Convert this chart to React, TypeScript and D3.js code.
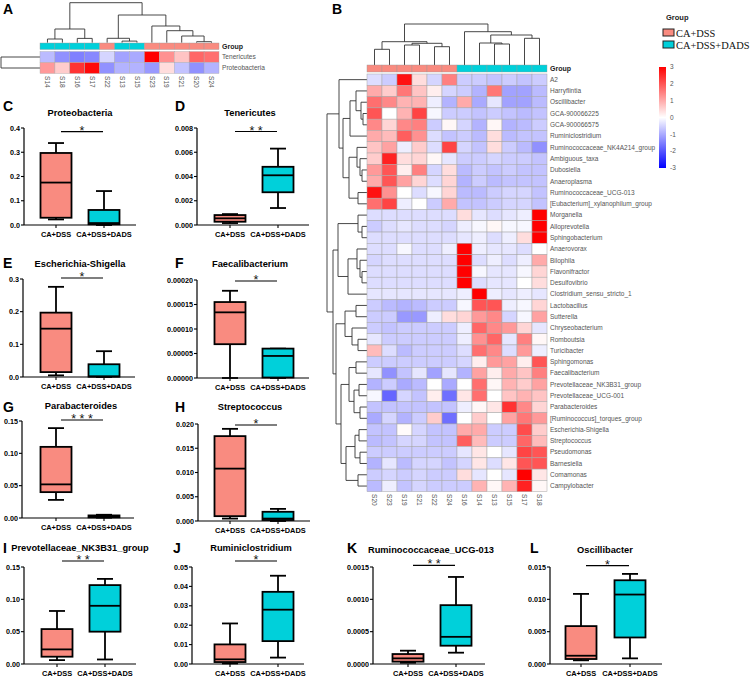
import React from "react";
import * as d3 from "d3";

// ---------- shared ----------
const groups = ["CA+DSS", "CA+DSS+DADS"];
const groupColors = ["#F98B80", "#00D0DA"];

// ---------- panel A ----------
const aSamples = ["S14", "S18", "S16", "S17", "S22", "S13", "S15", "S23", "S19", "S21", "S20", "S24"];
const aGroup = [1, 1, 1, 1, 0, 1, 1, 0, 0, 0, 0, 0];
const aTaxa = ["Tenericutes", "Proteobacteria"];
const aValues = [
  [-0.8, -1.3, -1.5, -1.4, -0.5, -1.1, -1.0, 3.0, 1.3, 0.7, 1.8, 1.7],
  [1.2, 0.6, 2.4, 2.9, -1.3, -0.9, -0.9, -1.2, 0.4, -0.7, -1.3, -0.9],
];
type Tree = number | [number, Tree, Tree];
const aColTree: Tree = [40, [13.7, [3.7, 0, 1], [4.3, 2, 3]], [27.7, [4.4, 4, [1.6, 5, 6]], [16.7, 7, [12, 8, [6.7, 9, [1, 10, 11]]]]]];
const aRowTree: Tree = [38, 0, 1];

// ---------- panel B ----------
const bSamples = ["S20", "S23", "S19", "S21", "S22", "S24", "S16", "S14", "S13", "S15", "S17", "S18"];
const bGroup = [0, 0, 0, 0, 0, 0, 1, 1, 1, 1, 1, 1];
const bTaxa = [
  "A2", "Harryflintia", "Oscillibacter", "GCA-900066225", "GCA-900066575", "Ruminiclostridium",
  "Ruminococcaceae_NK4A214_group", "Ambiguous_taxa", "Dubosiella", "Anaeroplasma", "Ruminococcaceae_UCG-013",
  "[Eubacterium]_xylanophilum_group", "Morganella", "Alloprevotella", "Sphingobacterium", "Anaerovorax",
  "Bilophila", "Flavonifractor", "Desulfovibrio", "Clostridium_sensu_stricto_1", "Lactobacillus", "Sutterella",
  "Chryseobacterium", "Romboutsia", "Turicibacter", "Sphingomonas", "Faecalibacterium",
  "Prevotellaceae_NK3B31_group", "Prevotellaceae_UCG-001", "Parabacteroides", "[Ruminococcus]_torques_group",
  "Escherichia-Shigella", "Streptococcus", "Pseudomonas", "Barnesiella", "Comamonas", "Campylobacter",
];
const bValues = [
  [-0.4, -0.6, 2.8, 0.4, -0.5, 1.5, -0.6, -0.6, -0.7, -0.6, -0.7, -0.6],
  [1.0, 0.6, 1.6, 0.7, 0.2, -0.5, -0.6, -0.9, 1.6, -1.1, -1.1, -0.8],
  [1.7, 1.4, 0.9, 0.9, -0.2, -0.9, 1.0, -1.0, -0.3, -1.1, -1.1, -0.8],
  [2.0, 0.0, 0.9, 2.2, -0.1, -0.6, -0.6, -0.7, -0.6, -0.7, -0.8, -0.7],
  [1.4, 0.5, 1.4, 1.5, -0.6, 0.1, -0.5, -0.9, 0.1, -0.9, -0.8, -0.6],
  [1.0, 0.8, 1.9, 1.3, -0.4, -0.7, -0.6, -0.8, 0.4, -0.8, -0.7, -0.7],
  [0.7, 1.1, -0.2, 0.6, -0.4, 2.2, -0.5, -0.7, 0.4, -0.6, -0.8, -1.3],
  [0.6, 2.6, 0.4, 0.5, 0.1, -0.3, -0.6, -0.6, -0.5, -0.6, -0.6, -0.7],
  [1.2, 2.0, 0.2, 1.5, -0.5, 0.4, -0.8, -0.6, -0.7, -0.6, -0.7, -0.7],
  [1.0, 2.0, 1.1, 0.5, -0.4, 0.5, -0.9, -0.6, -0.8, -0.7, -0.7, -0.7],
  [2.8, 1.3, 0.0, -0.4, -0.1, 0.5, -0.8, -0.8, -0.6, -0.5, -0.5, -0.7],
  [1.7, 2.2, -0.2, 0.0, -0.6, 1.0, -0.7, -0.7, -0.6, -0.5, -0.5, -0.7],
  [-0.4, -0.4, -0.4, -0.4, -0.4, -0.4, 0.4, -0.3, -0.4, -0.3, -0.2, 3.0],
  [-0.6, -0.4, -0.3, -0.4, -0.4, -0.5, -0.2, -0.1, 0.1, -0.1, -0.1, 3.0],
  [-0.4, -0.4, -0.4, -0.4, -0.4, -0.4, -0.3, -0.2, -0.4, -0.2, 0.4, 3.0],
  [-0.4, -0.4, -0.1, -0.4, -0.4, -0.2, 3.0, -0.2, -0.3, -0.3, -0.4, 0.0],
  [-0.5, -0.4, -0.4, -0.4, -0.4, -0.4, 3.0, -0.4, -0.2, -0.4, -0.2, 1.0],
  [-0.4, -0.4, -0.4, -0.4, -0.4, -0.4, 3.0, -0.1, -0.3, -0.3, -0.1, 0.5],
  [-0.4, -0.4, -0.4, -0.4, -0.4, -0.4, 3.0, -0.4, -0.3, -0.3, 0.0, 0.4],
  [-0.3, -0.3, -0.3, -0.3, -0.3, -0.3, -0.2, 3.0, -0.2, -0.3, -0.2, -0.3],
  [-0.6, -0.8, -0.9, -0.8, -0.6, -0.6, -0.1, 2.0, 2.0, -0.2, -0.1, 0.5],
  [-0.6, -0.6, -1.2, -1.2, -0.2, 0.4, 0.5, 1.2, 1.4, -0.5, -0.1, 1.1],
  [-0.6, -0.7, -0.6, -0.6, -0.6, -0.6, -0.2, 1.8, 1.4, 1.2, 0.5, -0.3],
  [-0.3, -0.6, -0.6, -0.6, -0.6, -0.6, -0.2, 1.3, 1.8, -0.3, 1.5, 0.1],
  [0.8, -0.4, -0.8, -0.6, -0.6, -0.6, -0.4, 1.7, 1.4, -0.4, 1.2, -0.2],
  [-0.6, -0.6, -0.6, -0.6, -0.6, -0.6, -0.5, 0.2, 1.2, 1.1, 0.2, 2.0],
  [-0.3, -1.3, -0.7, -0.3, -1.1, -0.3, -0.9, 1.1, 0.2, 1.0, 0.7, 1.5],
  [-0.9, -0.6, -1.0, -0.8, 0.0, -1.0, 0.0, 1.7, 0.1, 0.9, 0.6, 1.1],
  [-0.1, -1.8, -0.5, -0.7, 0.2, -1.7, 0.3, 1.7, 0.0, 0.7, 0.9, 0.7],
  [-0.7, -0.7, -0.7, -0.7, -0.7, -0.7, -0.2, 0.1, 0.3, 2.4, 1.4, 0.5],
  [-1.0, -0.5, -0.9, -0.6, 0.6, -1.7, 0.0, 0.6, 0.0, 1.1, 1.6, 1.2],
  [-0.7, -0.7, 0.05, -0.5, -0.7, -0.7, 1.0, 1.0, -0.6, -0.6, 2.1, 0.6],
  [-0.8, -0.7, -0.5, -0.5, -0.7, -0.7, 1.9, 0.8, -0.6, -0.6, 1.8, 0.8],
  [-0.6, -0.6, -0.6, -0.6, -0.6, -0.6, -0.3, 0.3, 0.0, -0.3, 2.2, 2.0],
  [-0.9, -0.3, -0.8, -0.5, -0.5, -0.7, -0.5, 0.3, -0.4, 0.3, 2.0, 2.0],
  [-0.6, -0.5, -0.6, -0.5, -0.6, -0.6, 0.4, -0.3, 0.0, -0.3, 3.0, 0.3],
  [-0.8, -0.2, -0.7, -0.5, -0.6, -0.6, -0.6, 0.9, 0.1, 0.9, 2.6, 0.1],
];
const bColTree: Tree = [41, [23.3, [15.7, 0, 1], [21.7, [20, 2, 3], [18.3, 4, 5]]], [33.3, 6, [30, [22, 7, [21, 8, 9]], [26.7, 10, 11]]]];
const bRowTree: Tree = [40,
  [28, 0, [24, [17, [11, 1, [6, 2, [4, 3, 4]]], 5], [18, [10, 6, [7, 7, [5, 8, 9]]], [9, 10, 11]]]],
  [34,
    [29, [9, 12, [5, 13, 14]], [19, [10, 15, [7, 16, [5, 17, 18]]], 19]],
    [31, [22, [11, 20, 21], [15, 22, [9, 23, 24]]],
      [26, [18, [11, 25, 26], [13, [8, 27, 28], [7, 29, 30]]], [21, [12, [8, 31, 32], [7, 33, 34]], [9, 35, 36]]]]]];
const colorTicks = ["3", "2", "1", "0", "-1", "-2", "-3"];

// ---------- box plot panels: [min, q1, median, q3, max] ----------
const proteobacteria = [[0.023, 0.03, 0.175, 0.297, 0.338], [0.0, 0.003, 0.008, 0.062, 0.14]];
const tenericutes = [[0.00016, 0.00027, 0.00055, 0.00082, 0.0009], [0.0014, 0.0027, 0.0041, 0.0048, 0.0063]];
const escherichia = [[0.005, 0.015, 0.148, 0.197, 0.276], [0.0, 0.001, 0.002, 0.039, 0.079]];
const faecalibacterium = [[0.0, 0.000069, 0.000134, 0.000155, 0.000178], [0.0, 0.000001, 0.000045, 0.00006, 0.00006]];
const parabacteroides = [[0.028, 0.04, 0.052, 0.11, 0.139], [0.0005, 0.001, 0.002, 0.004, 0.005]];
const streptococcus = [[0.0005, 0.001, 0.0108, 0.0175, 0.019], [0.0, 0.0002, 0.0005, 0.0019, 0.0025]];
const prevotellaceae = [[0.006, 0.0113, 0.0226, 0.054, 0.082], [0.007, 0.05, 0.09, 0.122, 0.1316]];
const ruminiclostridium = [[0.0003, 0.001, 0.0024, 0.0101, 0.0209], [0.0033, 0.0118, 0.028, 0.0372, 0.0455]];
const ruminococcaceae = [[0.00002, 0.000036, 0.000087, 0.000154, 0.000206], [0.000175, 0.000283, 0.00042, 0.00091, 0.001346]];
const oscillibacter = [[0.00057, 0.00077, 0.00128, 0.00586, 0.01084], [0.00087, 0.0041, 0.01074, 0.01295, 0.01393]];

const ticksC = ["0.0", "0.1", "0.2", "0.3", "0.4"];
const ticksD = ["0.000", "0.002", "0.004", "0.006", "0.008"];
const ticksE = ["0.0", "0.1", "0.2", "0.3"];
const ticksF = ["0.00000", "0.00005", "0.00010", "0.00015", "0.00020"];
const ticksG = ["0.00", "0.05", "0.10", "0.15"];
const ticksH = ["0.000", "0.005", "0.010", "0.015", "0.020"];
const ticksI = ["0.00", "0.05", "0.10", "0.15"];
const ticksJ = ["0.00", "0.01", "0.02", "0.03", "0.04", "0.05"];
const ticksK = ["0.0000", "0.0005", "0.0010", "0.0015"];
const ticksL = ["0.000", "0.005", "0.010", "0.015"];

const panels = [
  { id: "C", title: "Proteobacteria", stats: proteobacteria, ticks: ticksC, sig: "*", ax: 24, top: 128, bot: 225, c1: 56, c2: 104, tx: 80, ty: 116, sy: 131.7, lx: 3, ly: 111 },
  { id: "D", title: "Tenericutes", stats: tenericutes, ticks: ticksD, sig: "* *", ax: 197, top: 128, bot: 225, c1: 230, c2: 278, tx: 250, ty: 116, sy: 131.5, lx: 175, ly: 111 },
  { id: "E", title: "Escherichia-Shigella", stats: escherichia, ticks: ticksE, sig: "*", ax: 23, top: 279, bot: 377, c1: 56, c2: 104, tx: 80, ty: 267, sy: 278, lx: 3, ly: 268 },
  { id: "F", title: "Faecalibacterium", stats: faecalibacterium, ticks: ticksF, sig: "*", ax: 197, top: 280, bot: 378, c1: 230, c2: 278, tx: 250, ty: 267, sy: 281, lx: 175, ly: 268 },
  { id: "G", title: "Parabacteroides", stats: parabacteroides, ticks: ticksG, sig: "* * *", ax: 22, top: 421, bot: 518, c1: 56, c2: 104, tx: 81, ty: 409, sy: 420, lx: 3, ly: 412 },
  { id: "H", title: "Streptococcus", stats: streptococcus, ticks: ticksH, sig: "*", ax: 198, top: 424, bot: 521, c1: 230, c2: 278, tx: 250, ty: 410, sy: 425, lx: 175, ly: 412 },
  { id: "I", title: "Prevotellaceae_NK3B31_group", stats: prevotellaceae, ticks: ticksI, sig: "* *", ax: 24, top: 567, bot: 664, c1: 57, c2: 105, tx: 80, ty: 550.5, sy: 561, lx: 3, ly: 553 },
  { id: "J", title: "Ruminiclostridium", stats: ruminiclostridium, ticks: ticksJ, sig: "*", ax: 192, top: 567, bot: 664, c1: 230, c2: 278, tx: 251, ty: 550.5, sy: 561, lx: 173, ly: 553 },
  { id: "K", title: "Ruminococcaceae_UCG-013", stats: ruminococcaceae, ticks: ticksK, sig: "* *", ax: 373, top: 567, bot: 664, c1: 408, c2: 456, tx: 431, ty: 553, sy: 565.3, lx: 347, ly: 553 },
  { id: "L", title: "Oscillibacter", stats: oscillibacter, ticks: ticksL, sig: "*", ax: 550, top: 567, bot: 664, c1: 581, c2: 630, tx: 605, ty: 553, sy: 565.7, lx: 530, ly: 553 },
];

const SANS = "'Liberation Sans', Arial, Helvetica, sans-serif";
const SERIF = "'Liberation Serif', 'Times New Roman', serif";

const heatColor = d3.scaleLinear<string>().domain([-3, 0, 3]).range(["#0000FF", "#FFFFFF", "#FF0000"]).clamp(true);

function dendroPath(t: Tree, pos: (i: number) => number, hs: d3.ScaleLinear<number, number>, orient: "col" | "row"): string {
  const p = d3.path();
  const rec = (n: Tree): { p: number; h: number } => {
    if (typeof n === "number") return { p: pos(n), h: 0 };
    const [h, a, b] = n;
    const A = rec(a);
    const B = rec(b);
    const s = hs(h);
    if (orient === "col") {
      p.moveTo(A.p, hs(A.h)); p.lineTo(A.p, s); p.lineTo(B.p, s); p.lineTo(B.p, hs(B.h));
    } else {
      p.moveTo(hs(A.h), A.p); p.lineTo(s, A.p); p.lineTo(s, B.p); p.lineTo(hs(B.h), B.p);
    }
    return { p: (A.p + B.p) / 2, h };
  };
  rec(t);
  return p.toString();
}

function PanelA() {
  const x = d3.scaleBand().domain(aSamples).range([40, 219]);
  const y = d3.scaleBand().domain(aTaxa).range([51.5, 73.5]);
  const colH = d3.scaleLinear().domain([0, 40]).range([42.7, 2.7]);
  const rowH = d3.scaleLinear().domain([0, 38]).range([40, 1]);
  const colD = dendroPath(aColTree, (i) => x(aSamples[i])! + x.bandwidth() / 2, colH, "col");
  const rowD = dendroPath(aRowTree, (i) => y(aTaxa[i])! + y.bandwidth() / 2, rowH, "row");
  return (
    <g>
      <path d={colD} fill="none" stroke="#333" strokeWidth={0.9} />
      <path d={rowD} fill="none" stroke="#333" strokeWidth={0.9} />
      {aSamples.map((s, i) => (
        <rect key={s} x={x(s)} y={43} width={x.bandwidth()} height={6.5} fill={groupColors[aGroup[i]]} stroke="#999" strokeWidth={0.4} />
      ))}
      {aTaxa.map((t, r) =>
        aSamples.map((s, c) => (
          <rect key={t + s} x={x(s)} y={y(t)} width={x.bandwidth()} height={y.bandwidth()} fill={heatColor(aValues[r][c])} stroke="#aaa" strokeWidth={0.4} />
        ))
      )}
      <text x={222} y={49} fontFamily={SANS} fontSize={7} fontWeight="bold" fill="#222">Group</text>
      {aTaxa.map((t) => (
        <text key={t} x={222} y={y(t)! + y.bandwidth() / 2} dy="0.35em" fontFamily={SANS} fontSize={6.6} fill="#555">{t}</text>
      ))}
      {aSamples.map((s) => (
        <text key={s} transform={`translate(${x(s)! + x.bandwidth() / 2},76) rotate(90)`} dy="0.35em" fontFamily={SANS} fontSize={6.6} fill="#555">{s}</text>
      ))}
      <text x={3} y={14} fontFamily={SANS} fontSize={14} fontWeight="bold">A</text>
    </g>
  );
}

function PanelB() {
  const x = d3.scaleBand().domain(bSamples).range([367, 547]);
  const y = d3.scaleBand().domain(bTaxa).range([74, 491.7]);
  const colH = d3.scaleLinear().domain([0, 41]).range([65, 24]);
  const rowH = d3.scaleLinear().domain([0, 40]).range([367, 327]);
  const colD = dendroPath(bColTree, (i) => x(bSamples[i])! + x.bandwidth() / 2, colH, "col");
  const rowD = dendroPath(bRowTree, (i) => y(bTaxa[i])! + y.bandwidth() / 2, rowH, "row");
  const cbY = d3.scaleLinear().domain([3, -3]).range([67, 168]);
  return (
    <g>
      <defs>
        <linearGradient id="cbar" x1="0" y1="0" x2="0" y2="1">
          <stop offset="0%" stopColor="#FF0000" />
          <stop offset="50%" stopColor="#FFFFFF" />
          <stop offset="100%" stopColor="#0000FF" />
        </linearGradient>
      </defs>
      <path d={colD} fill="none" stroke="#333" strokeWidth={0.9} />
      <path d={rowD} fill="none" stroke="#333" strokeWidth={0.9} />
      {bSamples.map((s, i) => (
        <rect key={s} x={x(s)} y={65} width={x.bandwidth()} height={7} fill={groupColors[bGroup[i]]} stroke="#999" strokeWidth={0.4} />
      ))}
      {bTaxa.map((t, r) =>
        bSamples.map((s, c) => (
          <rect key={t + s} x={x(s)} y={y(t)} width={x.bandwidth()} height={y.bandwidth()} fill={heatColor(bValues[r][c])} stroke="#a6a6a6" strokeWidth={0.5} />
        ))
      )}
      <text x={550} y={68.5} dy="0.35em" fontFamily={SANS} fontSize={7} fontWeight="bold" fill="#222">Group</text>
      {bTaxa.map((t) => (
        <text key={t} x={550} y={y(t)! + y.bandwidth() / 2} dy="0.35em" fontFamily={SANS} fontSize={6.5} fill="#555">{t}</text>
      ))}
      {bSamples.map((s) => (
        <text key={s} transform={`translate(${x(s)! + x.bandwidth() / 2},494) rotate(90)`} dy="0.35em" fontFamily={SANS} fontSize={6.6} fill="#555">{s}</text>
      ))}
      <text x={332} y={14} fontFamily={SANS} fontSize={14} fontWeight="bold">B</text>
      {/* legend */}
      <text x={666} y={20} fontFamily={SANS} fontSize={7.5} fontWeight="bold" fill="#222">Group</text>
      {groups.map((g, i) => (
        <g key={g}>
          <rect x={663} y={29 + i * 12} width={11} height={7} fill={groupColors[i]} stroke="#222" strokeWidth={1} />
          <text x={676} y={36.5 + i * 12} fontFamily={SERIF} fontSize={10.4} fill="#111">{g}</text>
        </g>
      ))}
      <rect x={659} y={cbY(3)} width={7} height={cbY(-3) - cbY(3)} fill="url(#cbar)" />
      {colorTicks.map((t) => (
        <text key={t} x={670} y={cbY(+t)} dy="0.35em" fontFamily={SANS} fontSize={6.5} fill="#555">{t}</text>
      ))}
    </g>
  );
}

function BoxPanel({ p }: { p: (typeof panels)[number] }) {
  const tickVals = p.ticks.map((t) => parseFloat(t));
  const yMax = tickVals[tickVals.length - 1];
  const y = d3.scaleLinear().domain([0, yMax]).range([p.bot, p.top]);
  const x = d3.scalePoint<string>().domain(groups).range([p.c1, p.c2]);
  const xEnd = p.ax + 112;
  const bw = 31;
  const cap = 16;
  return (
    <g fontFamily={SANS}>
      <text x={p.lx} y={p.ly} fontSize={14} fontWeight="bold">{p.id}</text>
      <text x={p.tx} y={p.ty} textAnchor="middle" fontSize={9.3} fontWeight="bold">{p.title}</text>
      <line x1={x(groups[0])! + 5} x2={x(groups[1])! - 1} y1={p.sy} y2={p.sy} stroke="#000" strokeWidth={1.2} />
      <text x={(x(groups[0])! + x(groups[1])! + 4) / 2} y={p.sy + 3} textAnchor="middle" fontSize={12.5} fill="#111">{p.sig}</text>
      {/* y axis */}
      <line x1={p.ax} x2={p.ax} y1={p.top} y2={p.bot} stroke="#000" strokeWidth={1.2} />
      {p.ticks.map((t, i) => (
        <g key={t}>
          <line x1={p.ax - 3} x2={p.ax} y1={y(tickVals[i])} y2={y(tickVals[i])} stroke="#000" strokeWidth={1.1} />
          <text x={p.ax - 4} y={y(tickVals[i])} dy="0.35em" textAnchor="end" fontSize={7.2} fontWeight="bold">{t}</text>
        </g>
      ))}
      {/* x axis */}
      <line x1={p.ax} x2={xEnd} y1={p.bot} y2={p.bot} stroke="#000" strokeWidth={1.2} />
      {groups.map((g) => (
        <g key={g}>
          <line x1={x(g)} x2={x(g)} y1={p.bot} y2={p.bot + 3} stroke="#000" strokeWidth={1.1} />
          <text x={x(g)} y={p.bot + 11.5} textAnchor="middle" fontSize={7.4} fontWeight="bold">{g}</text>
        </g>
      ))}
      {/* boxes */}
      {p.stats.map((s, i) => {
        const cx = x(groups[i])!;
        const [mn, q1, md, q3, mx] = s;
        return (
          <g key={i} stroke="#000" strokeWidth={1.8}>
            <line x1={cx} x2={cx} y1={y(mx)} y2={y(q3)} />
            <line x1={cx} x2={cx} y1={y(q1)} y2={y(mn)} />
            <line x1={cx - cap / 2} x2={cx + cap / 2} y1={y(mx)} y2={y(mx)} />
            <line x1={cx - cap / 2} x2={cx + cap / 2} y1={y(mn)} y2={y(mn)} />
            <rect x={cx - bw / 2} y={y(q3)} width={bw} height={Math.max(0.5, y(q1) - y(q3))} fill={groupColors[i]} />
            <line x1={cx - bw / 2} x2={cx + bw / 2} y1={y(md)} y2={y(md)} />
          </g>
        );
      })}
    </g>
  );
}

export default function App() {
  return (
    <svg width={752} height={676} viewBox="0 0 752 676" style={{ position: "absolute", left: 0, top: 0, background: "#fff" }}>
      <rect x={0} y={0} width={752} height={676} fill="#fff" />
      <PanelA />
      <PanelB />
      {panels.map((p) => (
        <BoxPanel key={p.id} p={p} />
      ))}
    </svg>
  );
}
